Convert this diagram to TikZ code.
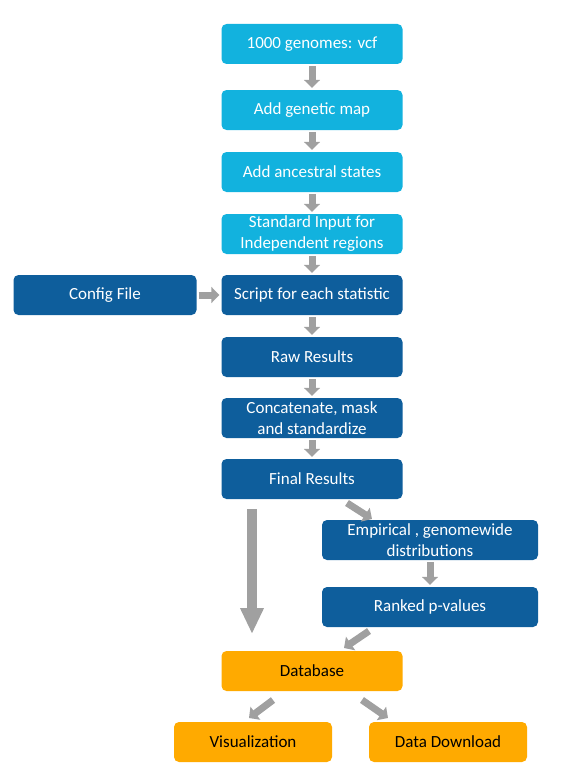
\documentclass[tikz,border=0pt]{standalone}
\usepackage{fontspec}
\setmainfont{Carlito}
\usetikzlibrary{arrows.meta}

\definecolor{lightblue}{RGB}{18,178,222}
\definecolor{darkblue}{RGB}{14,94,156}
\definecolor{dborange}{RGB}{255,170,0}
\definecolor{arrowgray}{RGB}{160,160,160}

\tikzset{
    stage/.style={rounded corners=5pt, minimum width=181pt, minimum height=40pt,
        align=center, inner sep=2pt, font=\fontsize{17}{21}\selectfont},
    inputstage/.style={stage, fill=lightblue, text=white},
    calcstage/.style={stage, fill=darkblue, text=white},
    outstage/.style={stage, fill=dborange, text=black},
    flow/.style={draw=arrowgray, line width=7pt,
        -{Triangle[length=8pt, width=16pt]}, shorten <=2pt, shorten >=2pt},
    bigflow/.style={draw=arrowgray, line width=10pt,
        -{Triangle[length=26pt, width=22pt]}}
}

\begin{document}
\begin{tikzpicture}[x=1pt, y=-1pt]

\useasboundingbox (0,0) rectangle (564,784);

% pipeline input
\node[inputstage] (vcf) at (312, 44) {1000 genomes: vcf};
\node[inputstage] (genmap) at (312, 110) {Add genetic map};
\node[inputstage] (ancestral) at (312, 172) {Add ancestral states};
\node[inputstage] (stdinput) at (312, 234) {Standard Input for\\Independent regions};

% computation
\node[calcstage, minimum width=183pt] (config) at (105, 295) {Config File};
\node[calcstage] (script) at (312, 295) {Script for each statistic};
\node[calcstage] (raw) at (312, 357) {Raw Results};
\node[calcstage] (concat) at (312, 418) {Concatenate, mask\\and standardize};
\node[calcstage] (final) at (312, 479) {Final Results};
\node[calcstage, minimum width=216pt] (empirical) at (430, 540) {Empirical , genomewide\\distributions};
\node[calcstage, minimum width=216pt] (ranked) at (430, 607) {Ranked p-values};

% output
\node[outstage] (database) at (312, 671) {Database};
\node[outstage, minimum width=158pt] (visual) at (253, 742) {Visualization};
\node[outstage, minimum width=158pt] (download) at (448, 742) {Data Download};

% ends of the slanted and long arrows
\coordinate (finalout) at (347, 503);
\coordinate (empin) at (372, 519);
\coordinate (rankout) at (369, 631);
\coordinate (dbin) at (344, 648);
\coordinate (dbleft) at (273, 700);
\coordinate (visin) at (249, 718);
\coordinate (dbright) at (362, 700);
\coordinate (dlin) at (388, 718);
\coordinate (longtop) at (252, 509);
\coordinate (longend) at (252, 634);

\draw[flow] (vcf) -- (genmap);
\draw[flow] (genmap) -- (ancestral);
\draw[flow] (ancestral) -- (stdinput);
\draw[flow] (stdinput) -- (script);
\draw[flow] (config) -- (script);
\draw[flow] (script) -- (raw);
\draw[flow] (raw) -- (concat);
\draw[flow] (concat) -- (final);
\draw[flow] (empirical) -- (ranked);
\draw[flow, shorten <=0pt, shorten >=0pt] (finalout) -- (empin);
\draw[flow, shorten <=0pt, shorten >=0pt] (rankout) -- (dbin);
\draw[flow, shorten <=0pt, shorten >=0pt] (dbleft) -- (visin);
\draw[flow, shorten <=0pt, shorten >=0pt] (dbright) -- (dlin);
\draw[bigflow] (longtop) -- (longend);

\end{tikzpicture}
\end{document}
